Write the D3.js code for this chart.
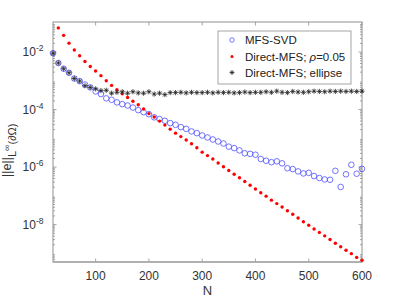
<!DOCTYPE html>
<html>
<head>
<meta charset="utf-8">
<script src="https://cdn.jsdelivr.net/npm/d3@7"></script>
<style>
  body { margin: 0; background: #fff; }
  svg { display: block; font-family: "Liberation Sans", Arial, sans-serif; }
</style>
</head>
<body>
<svg id="viz" width="399" height="299"></svg>
<script>
// N values
const nSvd = d3.range(20, 601, 10);
const nDirect = d3.range(30, 601, 10);

// log10 of the error
const logSvd = [
    -2.04, -2.38, -2.58, -2.72, -2.92, -3.01, -3.13, -3.23, -3.37, -3.46,
    -3.61, -3.66, -3.75, -3.81, -3.86, -3.93, -4.02, -4.09, -4.16, -4.27,
    -4.33, -4.39, -4.47, -4.53, -4.61, -4.67, -4.76, -4.82, -4.90, -4.97,
    -5.04, -5.11, -5.18, -5.29, -5.34, -5.42, -5.52, -5.54, -5.57, -5.72,
    -5.78, -5.83, -5.80, -5.87, -6.04, -6.07, -6.15, -6.22, -6.20, -6.31,
    -6.38, -6.43, -6.44, -6.13, -6.69, -6.25, -5.92, -6.23, -6.06
];
const logDirect = [
    -1.16, -1.42, -1.69, -1.93, -2.13, -2.33, -2.50, -2.66, -2.82, -3.00,
    -3.16, -3.31, -3.45, -3.58, -3.71, -3.83, -3.98, -4.14, -4.26, -4.40,
    -4.54, -4.68, -4.82, -4.94, -5.06, -5.19, -5.33, -5.48, -5.60, -5.72,
    -5.86, -5.99, -6.12, -6.25, -6.37, -6.50, -6.63, -6.76, -6.89, -7.01,
    -7.15, -7.27, -7.39, -7.52, -7.64, -7.77, -7.90, -8.02, -8.15, -8.27,
    -8.39, -8.52, -8.65, -8.77, -8.89, -9.01, -9.14, -9.24
];
const logEllipse = [
    -2.04, -2.38, -2.58, -2.72, -2.92, -3.01, -3.17, -3.23, -3.28, -3.34,
    -3.33, -3.43, -3.40, -3.38, -3.43, -3.38, -3.42, -3.43, -3.38, -3.46,
    -3.43, -3.48, -3.41, -3.41, -3.40, -3.42, -3.40, -3.41, -3.41, -3.40,
    -3.42, -3.40, -3.41, -3.40, -3.42, -3.41, -3.39, -3.41, -3.40, -3.40,
    -3.38, -3.40, -3.36, -3.40, -3.41, -3.37, -3.39, -3.40, -3.38, -3.36,
    -3.37, -3.38, -3.36, -3.37, -3.36, -3.37, -3.36, -3.37, -3.36
];

const xTicks = [100, 200, 300, 400, 500, 600];
const yTickExps = [-8, -6, -4, -2];

const svg = d3.select("#viz");
const mLeft = 53, mRight = 362, mTop = 22, mBottom = 262;
const axisColor = "#8f8f8f";
const textColor = "#333";

const x = d3.scaleLinear().domain([20, 600]).range([mLeft, mRight]);
const y = d3.scaleLog().domain([Math.pow(10, -9.3), Math.pow(10, -0.955)]).range([mBottom, mTop]);

// minor log ticks
const minor = [];
for (let e = -10; e <= -1; e++) {
    for (let m = 2; m <= 9; m++) {
        const v = m * Math.pow(10, e);
        if (v >= y.domain()[0] && v <= y.domain()[1]) minor.push(v);
    }
}

const ticks = svg.append("g").attr("stroke", axisColor).attr("stroke-width", 0.8);
minor.forEach(v => {
    ticks.append("line").attr("x1", mLeft).attr("x2", mLeft + 2).attr("y1", y(v)).attr("y2", y(v));
    ticks.append("line").attr("x1", mRight).attr("x2", mRight - 2).attr("y1", y(v)).attr("y2", y(v));
});
yTickExps.forEach(e => {
    const v = Math.pow(10, e);
    ticks.append("line").attr("x1", mLeft).attr("x2", mLeft + 3.5).attr("y1", y(v)).attr("y2", y(v));
    ticks.append("line").attr("x1", mRight).attr("x2", mRight - 3.5).attr("y1", y(v)).attr("y2", y(v));
});
xTicks.forEach(t => {
    ticks.append("line").attr("x1", x(t)).attr("x2", x(t)).attr("y1", mBottom).attr("y2", mBottom - 3.5);
    ticks.append("line").attr("x1", x(t)).attr("x2", x(t)).attr("y1", mTop).attr("y2", mTop + 3.5);
});

// box
svg.append("rect")
    .attr("x", mLeft).attr("y", mTop)
    .attr("width", mRight - mLeft).attr("height", mBottom - mTop)
    .attr("fill", "none").attr("stroke", axisColor).attr("stroke-width", 1);
svg.append("line")
    .attr("x1", mLeft).attr("x2", mRight).attr("y1", mBottom).attr("y2", mBottom)
    .attr("stroke", "#aaa").attr("stroke-width", 1.6);

// tick labels
svg.append("g").selectAll("text")
    .data(xTicks)
    .join("text")
    .attr("x", d => x(d))
    .attr("y", 280)
    .attr("text-anchor", "middle")
    .attr("font-size", 12)
    .attr("fill", textColor)
    .text(d => d);

const yLabels = svg.append("g").attr("fill", textColor);
yTickExps.forEach(e => {
    const t = yLabels.append("text")
        .attr("x", 43.5)
        .attr("y", y(Math.pow(10, e)) + 4)
        .attr("text-anchor", "end")
        .attr("font-size", 12);
    t.append("tspan").text("10");
    t.append("tspan").attr("dy", -5).attr("font-size", 8.5).text(e);
});

// axis titles
svg.append("text")
    .attr("x", (mLeft + mRight) / 2)
    .attr("y", 295)
    .attr("text-anchor", "middle")
    .attr("font-size", 13)
    .attr("fill", textColor)
    .text("N");

const yTitle = svg.append("text")
    .attr("transform", "translate(11,177) rotate(-90)")
    .attr("font-size", 12.5)
    .attr("fill", textColor);
yTitle.append("tspan").text("||e||");
yTitle.append("tspan").attr("dy", 4.5).attr("font-size", 11).text("L");
yTitle.append("tspan").attr("dy", -6).attr("font-size", 9).text("∞");
yTitle.append("tspan").attr("dy", 6).attr("font-size", 11).text("(∂Ω)");

// markers
const plot = svg.append("g");

function star(g, cx, cy, r) {
    const p = d3.path();
    for (let k = 0; k < 4; k++) {
        const a = k * Math.PI / 4;
        p.moveTo(cx - r * Math.cos(a), cy - r * Math.sin(a));
        p.lineTo(cx + r * Math.cos(a), cy + r * Math.sin(a));
    }
    g.append("path").attr("d", p.toString())
        .attr("stroke", "#222").attr("stroke-width", 0.8).attr("fill", "none");
}

plot.append("g").selectAll("circle")
    .data(nSvd.map((n, i) => [n, logSvd[i]]))
    .join("circle")
    .attr("cx", d => x(d[0]))
    .attr("cy", d => y(Math.pow(10, d[1])))
    .attr("r", 2.8)
    .attr("fill", "none")
    .attr("stroke", "#5050ff")
    .attr("stroke-width", 0.8);

plot.append("g").selectAll("circle")
    .data(nDirect.map((n, i) => [n, logDirect[i]]))
    .join("circle")
    .attr("cx", d => x(d[0]))
    .attr("cy", d => y(Math.pow(10, d[1])))
    .attr("r", 1.7)
    .attr("fill", "#ff0000");

const stars = plot.append("g");
nSvd.forEach((n, i) => star(stars, x(n), y(Math.pow(10, logEllipse[i])), 2.6));

// legend
const lg = svg.append("g");
lg.append("rect")
    .attr("x", 218).attr("y", 31)
    .attr("width", 133).attr("height", 53)
    .attr("fill", "#fff").attr("stroke", axisColor).attr("stroke-width", 0.8);

const legendRows = [40, 56.5, 72.5];
lg.append("circle").attr("cx", 232).attr("cy", legendRows[0])
    .attr("r", 2.2).attr("fill", "none").attr("stroke", "#5050ff").attr("stroke-width", 0.8);
lg.append("circle").attr("cx", 232).attr("cy", legendRows[1])
    .attr("r", 1.5).attr("fill", "#ff0000");
star(lg, 232, legendRows[2], 2.4);

const lt = lg.append("g").attr("font-size", 11.5).attr("fill", "#222");
lt.append("text").attr("x", 245).attr("y", legendRows[0] + 4).text("MFS-SVD");
const t2 = lt.append("text").attr("x", 245).attr("y", legendRows[1] + 4);
t2.append("tspan").text("Direct-MFS;\u00a0");
t2.append("tspan").attr("font-style", "italic").text("ρ");
t2.append("tspan").text("=0.05");
lt.append("text").attr("x", 245).attr("y", legendRows[2] + 4).text("Direct-MFS; ellipse");
</script>
</body>
</html>
